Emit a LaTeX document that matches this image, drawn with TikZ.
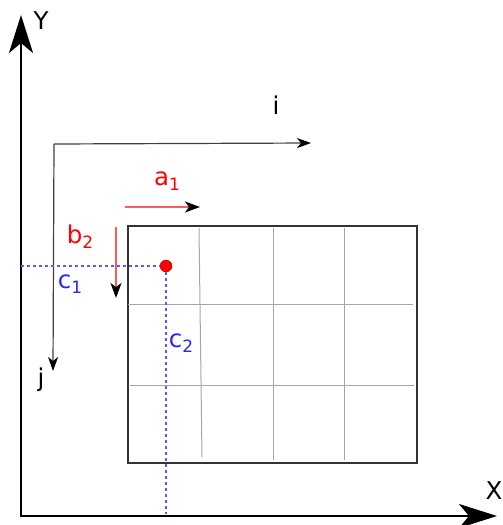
\documentclass[tikz,border=0pt]{standalone}
\usepackage{fontspec}
\setmainfont{DejaVu Sans}
\usetikzlibrary{arrows.meta}
\definecolor{lblue}{RGB}{90,90,255}
\definecolor{lred}{RGB}{255,90,90}
\newcommand{\sbs}[1]{\raisebox{-5pt}{\fontsize{17}{17}\selectfont #1}}
\begin{document}
\begin{tikzpicture}[x=1pt,y=-1pt,
  lbl/.style={font=\fontsize{24.5}{28}\selectfont, inner sep=0pt},
  axis/.style={line width=2.8pt, -{Stealth[length=38pt,width=24pt,inset=10pt]}},
  frame/.style={line width=1.2pt, draw=black!75, -{Stealth[length=14pt,width=10pt,inset=4pt,black]}},
  redarr/.style={line width=1.4pt, draw=lred, -{Stealth[length=15pt,width=11pt,inset=4pt,black]}},
  gridl/.style={line width=1pt, draw=black!35},
  dots/.style={draw=lblue, line width=1.6pt, dash pattern=on 3pt off 3pt}]
\useasboundingbox (0,0) rectangle (503,525);
% axes
\coordinate (O) at (21,516);
\coordinate (Ytip) at (21,15);
\coordinate (Xtip) at (497,516);
\draw[axis] (O) -- (Ytip);
\draw[axis] ([xshift=-1.4pt]O) -- (Xtip);
\node[lbl] (Y) at (41,21) {Y};
\node[lbl,anchor=east] (X) at (502.5,491) {X};
% i-j frame
\coordinate (F) at (54,144);
\coordinate (Itip) at (311,143);
\coordinate (Jtip) at (53,371);
\draw[frame] (F) -- (Itip);
\draw[frame] (F) -- (Jtip);
\node[lbl] (i) at (276,105) {i};
\node[lbl] (j) at (41,380) {j};
% image rectangle
\node[draw=black!80, line width=1.8pt, minimum width=289pt, minimum height=237pt, inner sep=0pt, anchor=north west] (R) at (127,225) {};
\draw[gridl] (199,228) -- (202,457);
\draw[gridl] (273,228) -- (273,460);
\draw[gridl] (344,228) -- (344,460);
\draw[gridl] (128,304) -- (413,304);
\draw[gridl] (130,385) -- (414,385);
% a1, b2
\coordinate (A0) at (125,207);
\coordinate (A1) at (200,207);
\draw[redarr] (A0) -- (A1);
\node[lbl, text=red] (a1) at (167,181) {a\sbs{1}};
\coordinate (B0) at (116,227);
\coordinate (B1) at (116,298);
\draw[redarr] (B0) -- (B1);
\node[lbl, text=red] (b2) at (80,237) {b\sbs{2}};
% point
\node[circle, fill=red, draw=red!70!black, line width=0.4pt, minimum size=12pt, inner sep=0pt] (P) at (166,266) {};
\coordinate (C1) at (21,266);
\coordinate (C2) at (166,514);
\draw[dots] (C1) -- (P.west);
\draw[dots] (P.south) -- (C2);
\node[lbl, text=blue!85!white] (c1) at (70,284) {c\sbs{1}};
\node[lbl, text=blue!85!white] (c2) at (181,343) {c\sbs{2}};
\end{tikzpicture}
\end{document}
